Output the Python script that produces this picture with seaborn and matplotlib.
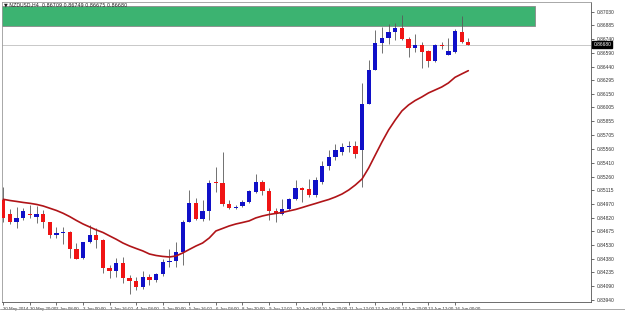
import matplotlib
matplotlib.use("Agg")
import matplotlib.pyplot as plt
import matplotlib.transforms as mtransforms
from matplotlib.patches import Rectangle
import seaborn as sns
import numpy as np
import pandas as pd

# ---------------- data ----------------
opens = [0.85013, 0.84863, 0.84780, 0.84816, 0.84863, 0.84827, 0.84863, 0.84780, 0.84637, 0.84655,
         0.84673, 0.84487, 0.84387, 0.84559, 0.84637, 0.84584, 0.84286, 0.84254, 0.84334, 0.84173,
         0.84147, 0.84082, 0.84190, 0.84154, 0.84219, 0.84344, 0.84361, 0.84458, 0.84780, 0.84977,
         0.84809, 0.84898, 0.85209, 0.85198, 0.84970, 0.84924, 0.84948, 0.84988, 0.85102, 0.85209,
         0.85113, 0.84898, 0.84863, 0.84916, 0.85020, 0.85138, 0.85128, 0.85066, 0.85209, 0.85378,
         0.85474, 0.85531, 0.85581, 0.85592, 0.85549, 0.86043, 0.86408, 0.86701, 0.86754, 0.86812,
         0.86862, 0.86737, 0.86641, 0.86676, 0.86612, 0.86504, 0.86676, 0.86569, 0.86604, 0.86819,
         0.86709]
highs = [0.85152, 0.84913, 0.84934, 0.84924, 0.84959, 0.84948, 0.84906, 0.84780, 0.84720, 0.84726,
         0.84680, 0.84555, 0.84562, 0.84745, 0.84709, 0.84590, 0.84315, 0.84387, 0.84404, 0.84208,
         0.84190, 0.84254, 0.84219, 0.84233, 0.84376, 0.84484, 0.84565, 0.84798, 0.85120, 0.85031,
         0.85013, 0.85227, 0.85370, 0.85531, 0.85013, 0.84959, 0.85013, 0.85120, 0.85292, 0.85227,
         0.85138, 0.84924, 0.85023, 0.85031, 0.85227, 0.85149, 0.85235, 0.85256, 0.85430, 0.85549,
         0.85614, 0.85624, 0.85646, 0.85646, 0.86268, 0.86515, 0.86837, 0.86872, 0.86901, 0.86909,
         0.86998, 0.86765, 0.86794, 0.86711, 0.86622, 0.86683, 0.86705, 0.86754, 0.86844, 0.86987,
         0.86749]
lows = [0.84780, 0.84755, 0.84709, 0.84798, 0.84816, 0.84769, 0.84709, 0.84602, 0.84602, 0.84541,
        0.84387, 0.84376, 0.84380, 0.84548, 0.84494, 0.84226, 0.84173, 0.84190, 0.84119, 0.84004,
        0.84047, 0.84055, 0.84101, 0.84136, 0.84197, 0.84297, 0.84297, 0.84315, 0.84780, 0.84798,
        0.84791, 0.84798, 0.85102, 0.84948, 0.84913, 0.84913, 0.84934, 0.84977, 0.85085, 0.85066,
        0.84798, 0.84780, 0.84852, 0.84906, 0.85013, 0.84995, 0.85042, 0.85048, 0.85185, 0.85335,
        0.85442, 0.85496, 0.85528, 0.85463, 0.85152, 0.86043, 0.86408, 0.86587, 0.86687, 0.86730,
        0.86730, 0.86544, 0.86604, 0.86432, 0.86443, 0.86490, 0.86633, 0.86569, 0.86593, 0.86694,
        0.86675]
closes = [0.84816, 0.84780, 0.84816, 0.84895, 0.84852, 0.84863, 0.84773, 0.84637, 0.84655, 0.84673,
          0.84487, 0.84380, 0.84559, 0.84637, 0.84584, 0.84286, 0.84254, 0.84334, 0.84173, 0.84147,
          0.84082, 0.84190, 0.84154, 0.84219, 0.84344, 0.84358, 0.84458, 0.84780, 0.84977, 0.84809,
          0.84898, 0.85198, 0.85198, 0.84970, 0.84924, 0.84941, 0.84988, 0.85109, 0.85209, 0.85113,
          0.84898, 0.84870, 0.84916, 0.85020, 0.85138, 0.85120, 0.85066, 0.85227, 0.85378, 0.85474,
          0.85549, 0.85581, 0.85592, 0.85506, 0.86043, 0.86408, 0.86701, 0.86754, 0.86812, 0.86862,
          0.86737, 0.86641, 0.86676, 0.86604, 0.86504, 0.86676, 0.86668, 0.86612, 0.86829, 0.86709,
          0.86680]
ma_values = [0.85020, 0.85007, 0.84997, 0.84986, 0.84977, 0.84965, 0.84948, 0.84924, 0.84900, 0.84870,
             0.84834, 0.84793, 0.84755, 0.84723, 0.84691, 0.84664, 0.84627, 0.84591, 0.84551, 0.84519,
             0.84492, 0.84466, 0.84433, 0.84417, 0.84407, 0.84401, 0.84412, 0.84444, 0.84482, 0.84519,
             0.84551, 0.84605, 0.84680, 0.84707, 0.84734, 0.84755, 0.84771, 0.84788, 0.84820, 0.84841,
             0.84857, 0.84868, 0.84879, 0.84895, 0.84911, 0.84932, 0.84954, 0.84975, 0.84997, 0.85018,
             0.85045, 0.85077, 0.85120, 0.85174, 0.85238, 0.85356, 0.85496, 0.85635, 0.85764, 0.85871,
             0.85968, 0.86032, 0.86080, 0.86118, 0.86161, 0.86193, 0.86225, 0.86268, 0.86329, 0.86365,
             0.86400]

time_labels = ["30 May 2014", "30 May 20:00", "2 Jun 08:00", "3 Jun 00:00", "3 Jun 16:00",
               "4 Jun 08:00", "5 Jun 00:00", "5 Jun 16:00", "6 Jun 08:00", "8 Jun 20:00",
               "9 Jun 12:00", "10 Jun 04:00", "10 Jun 20:00", "11 Jun 12:00", "12 Jun 04:00",
               "12 Jun 20:00", "13 Jun 12:00", "16 Jun 00:00"]
label_every = 4

price_labels = ["0.87030", "0.86885", "0.86740", "0.86590", "0.86440", "0.86295", "0.86150",
                "0.86005", "0.85855", "0.85705", "0.85560", "0.85410", "0.85260", "0.85115",
                "0.84970", "0.84820", "0.84675", "0.84530", "0.84380", "0.84235", "0.84090",
                "0.83940"]

zone_low, zone_high = 0.86880, 0.87094
zone_end_bar = 80
current_price = 0.86680
header = "NZDUSD,H4  0.86709 0.86749 0.86675 0.86680"

# ---------------- styling ----------------
sns.set_style("white")
plt.rcParams['font.family'] = ['Liberation Sans Narrow', 'Liberation Sans', 'DejaVu Sans']
bull = "#1010C8"
bear = "#F01414"
wick = "#5a5a5a"
ma_col = "#B01418"
fs = 3.5
fsx = 3.2

fig = plt.figure(figsize=(6.25, 3.11), dpi=100)
ax = fig.add_axes([2 / 625, 9 / 311, 589 / 625, 300 / 311])

df = pd.DataFrame({"bar": np.arange(len(opens)), "open": opens, "high": highs,
                   "low": lows, "close": closes, "ma": ma_values})

# supply zone and current price line
ax.add_patch(Rectangle((-5, zone_low), zone_end_bar + 5, zone_high - zone_low,
                       facecolor="#3CB371", edgecolor="#8a8a8a", lw=0.6, zorder=1))
ax.axhline(current_price, color="#c8c8c8", lw=0.7, zorder=1)

# candles
up = df["close"] >= df["open"]
colors = np.where(up, bull, bear)
ax.vlines(df["bar"], df["low"], df["high"], color=wick, lw=0.6, zorder=2)
body_h = np.maximum((df["close"] - df["open"]).abs(), 0.00005)
ax.bar(df["bar"], body_h, bottom=np.minimum(df["open"], df["close"]),
       width=0.64, color=colors, lw=0, zorder=3)

# moving average
sns.lineplot(data=df, x="bar", y="ma", ax=ax, color=ma_col, lw=1.2, zorder=4)

ax.set_xlim(-0.2, 88.47)
ax.set_ylim(0.83918, 0.87137)
ax.set_xlabel("")
ax.set_ylabel("")

# y axis on right
yvals = [float(v) for v in price_labels]
ax.yaxis.tick_right()
ax.set_yticks(yvals)
ax.set_yticklabels(price_labels)
ax.tick_params(axis="y", direction="out", length=2.5, width=0.5, pad=1.5,
               labelsize=fs, colors="#333333", right=True, left=False)

# x axis
xt = np.arange(len(time_labels)) * label_every
ax.set_xticks(xt)
ax.set_xticklabels(time_labels)
for t in ax.get_xticklabels():
    t.set_ha("left")
ax.tick_params(axis="x", direction="out", length=2.5, width=0.5, pad=1,
               labelsize=fsx, colors="#333333", bottom=True)

for s in ["left", "top"]:
    ax.spines[s].set_color("#9a9a9a")
    ax.spines[s].set_linewidth(0.6)
for s in ["right", "bottom"]:
    ax.spines[s].set_color("#555555")
    ax.spines[s].set_linewidth(0.6)

# current price box
trans = mtransforms.blended_transform_factory(ax.transAxes, ax.transData)
ax.text(1.004, current_price, "0.86680", transform=trans, fontsize=fs, color="white",
        va="center", ha="left",
        bbox=dict(boxstyle="square,pad=0.25", facecolor="black", edgecolor="black"))

# header
fig.text(4 / 625, 1 - 5 / 311, "\u25bc " + header, fontsize=fs, color="#222222",
         va="center", ha="left", family=['Liberation Sans Narrow', 'DejaVu Sans'])

# bottom window border
fig.add_artist(plt.Line2D([0, 1], [2 / 311, 2 / 311], color="#9a9a9a", lw=0.6))

fig.savefig("out.png", dpi=100)
